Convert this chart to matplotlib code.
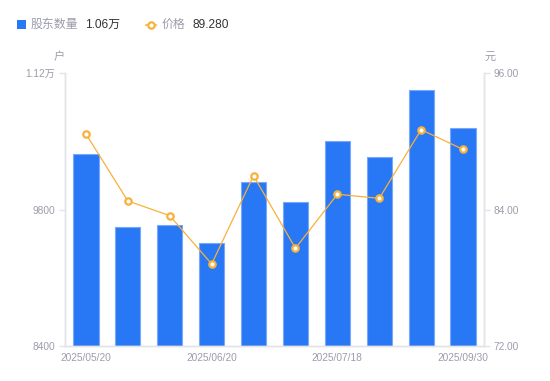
import matplotlib
matplotlib.use("Agg")
import matplotlib.pyplot as plt
from matplotlib.lines import Line2D
from matplotlib.patches import Rectangle

plt.rcParams['font.family'] = ['Liberation Sans', 'Noto Sans CJK SC', 'DejaVu Sans']

dates = ["2025/05/20", "2025/05/30", "2025/06/10", "2025/06/20", "2025/06/30",
         "2025/07/10", "2025/07/18", "2025/08/20", "2025/08/31", "2025/09/30"]
holders = [10369, 9617, 9641, 9459, 10085, 9874, 10503, 10338, 11023, 10633]
prices = [90.64, 84.75, 83.46, 79.21, 86.97, 80.59, 85.34, 84.98, 91.02, 89.28]
left_ticks = [8400, 9800, 11200]
left_labels = ["8400", "9800", "1.12万"]
right_ticks = [72, 84, 96]
right_labels = ["72.00", "84.00", "96.00"]
shown_idx = [0, 3, 6, 9]

BLUE = "#2878F5"
EDGE = "#79A8F8"
ORANGE = "#F8B13A"
GRAY = "#9C9CAC"
LINEC = "#E3E3E8"
DARK = "#333333"

W, H = 550, 381
fig = plt.figure(figsize=(W / 100, H / 100), dpi=100)
ax = fig.add_axes([65 / W, (H - 346) / H, (484 - 65) / W, (346 - 73) / H])
ax2 = ax.twinx()

x = list(range(len(dates)))
ax.bar(x, [h - left_ticks[0] for h in holders], bottom=left_ticks[0], width=0.6,
       color=BLUE, edgecolor=EDGE, linewidth=0.8, zorder=2)
ax.set_xlim(-0.5, len(dates) - 0.5)
ax.set_ylim(left_ticks[0], left_ticks[-1])
ax.set_yticks(left_ticks)
ax.set_yticklabels(left_labels)
ax.set_xticks([x[i] for i in shown_idx])
ax.set_xticklabels([dates[i] for i in shown_idx])

ax2.plot(x, prices, color=ORANGE, linewidth=0.9, marker="o", markersize=4.6,
         markerfacecolor="white", markeredgecolor=ORANGE, markeredgewidth=1.6, zorder=3)
ax2.set_ylim(right_ticks[0], right_ticks[-1])
ax2.set_yticks(right_ticks)
ax2.set_yticklabels(right_labels)

for a in (ax, ax2):
    for s in a.spines.values():
        s.set_color(LINEC)
        s.set_linewidth(1)
    a.spines['top'].set_visible(False)
    a.tick_params(axis='y', colors=LINEC, labelcolor=GRAY, labelsize=7.3, length=4, width=1, pad=3)
    a.tick_params(axis='x', length=0, labelcolor=GRAY, labelsize=7.3, pad=5)

fig.text(59 / W, 1 - 57 / H, "户", color=GRAY, fontsize=8, ha='center', va='center')
fig.text(490 / W, 1 - 57 / H, "元", color=GRAY, fontsize=8, ha='center', va='center')

# legend
ly = 1 - 25 / H
fig.patches.append(Rectangle((17 / W, 1 - 29 / H), 8.5 / W, 8.5 / H, transform=fig.transFigure,
                             facecolor=BLUE, edgecolor='none'))
fig.text(31 / W, ly, "股东数量", color=GRAY, fontsize=8.6, va='center', ha='left')
fig.text(85 / W, ly, "1.06万", color=DARK, fontsize=8.6, va='center', ha='left')
fig.lines.append(Line2D([146 / W, 156 / W], [ly, ly], transform=fig.transFigure, color=ORANGE,
                        linewidth=1.2))
fig.lines.append(Line2D([151 / W], [ly], transform=fig.transFigure, color=ORANGE, marker="o",
                        markersize=4.6, markerfacecolor="white", markeredgecolor=ORANGE,
                        markeredgewidth=1.6, linestyle='none'))
fig.text(162 / W, ly, "价格", color=GRAY, fontsize=8.6, va='center', ha='left')
fig.text(192 / W, ly, "89.280", color=DARK, fontsize=8.6, va='center', ha='left')

fig.savefig("out.png", dpi=100)
